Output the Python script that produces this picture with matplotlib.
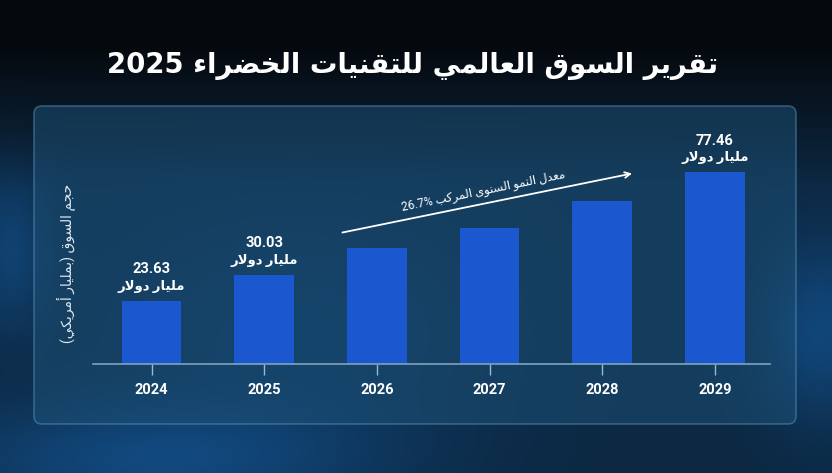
import unicodedata
import numpy as np
import matplotlib
matplotlib.use("Agg")
import matplotlib.pyplot as plt
from matplotlib.patches import FancyBboxPatch

# data
years = ["2024", "2025", "2026", "2027", "2028", "2029"]
bar_heights = [25.6, 36.1, 47.0, 55.1, 66.0, 77.46]   # bar heights as drawn (billion USD)
label_values = ["23.63", "30.03", None, None, None, "77.46"]
unit_text = "مليار دولار"
title_text = "تقرير السوق العالمي للتقنيات الخضراء 2025"
ylabel_text = "حجم السوق (بمليار أمريكي)"
cagr_text = "معدل النمو السنوى المركب 26.7%"

# --- tiny arabic shaper (matplotlib does no shaping) ---
RIGHT_ONLY = set("اأإآدذرزوؤةى")
LTR_CHARS = set("0123456789.%")


def is_ar(c):
    return "\u0621" <= c <= "\u064a"


def form(c, f):
    try:
        return unicodedata.lookup(unicodedata.name(c) + " " + f + " FORM")
    except KeyError:
        return c


def shape(s):
    out = []
    i = 0
    n = len(s)
    while i < n:
        c = s[i]
        if not is_ar(c):
            out.append(c)
            i += 1
            continue
        prev = s[i - 1] if i > 0 else ""
        joins_prev = prev != "" and is_ar(prev) and prev not in RIGHT_ONLY and prev != "ء"
        nxt = s[i + 1] if i + 1 < n else ""
        # lam-alef ligature
        if c == "ل" and nxt in "اأإآ" and nxt != "":
            name = unicodedata.name(nxt).replace("ARABIC LETTER ", "")
            lig = "ARABIC LIGATURE LAM WITH " + name
            lig += " FINAL FORM" if joins_prev else " ISOLATED FORM"
            out.append(unicodedata.lookup(lig))
            i += 2
            continue
        joins_next = c not in RIGHT_ONLY and c != "ء" and nxt != "" and is_ar(nxt)
        if joins_prev and joins_next:
            out.append(form(c, "MEDIAL"))
        elif joins_prev:
            out.append(form(c, "FINAL"))
        elif joins_next:
            out.append(form(c, "INITIAL"))
        else:
            out.append(form(c, "ISOLATED"))
        i += 1
    # visual order: reverse, keep number runs left-to-right, mirror brackets
    rev = "".join(out)[::-1]
    rev = rev.translate(str.maketrans("()", ")("))
    res, run = [], ""
    for ch in rev:
        if ch in LTR_CHARS:
            run += ch
        else:
            if run:
                res.append(run[::-1])
                run = ""
            res.append(ch)
    if run:
        res.append(run[::-1])
    return "".join(res)


plt.rcParams['font.family'] = ['Roboto', 'DejaVu Sans']

fig = plt.figure(figsize=(8.32, 4.73), dpi=100)

# background
bg = fig.add_axes([0, 0, 1, 1])
H, W = 473, 832
yy, xx = np.mgrid[0:H, 0:W]
t = np.clip((yy - 40) / 150.0, 0, 1)
top = np.array([5, 8, 12]) / 255.0
mid = np.array([12, 40, 66]) / 255.0
img = top[None, None, :] * (1 - t[..., None]) + mid[None, None, :] * t[..., None]
glow = np.exp(-(((xx - 150) / 220.0) ** 2 + ((yy - 460) / 60.0) ** 2)) * 0.5
glow += np.exp(-(((xx - 820) / 60.0) ** 2 + ((yy - 330) / 90.0) ** 2)) * 0.5
glow += np.exp(-(((xx - 10) / 40.0) ** 2 + ((yy - 250) / 80.0) ** 2)) * 0.4
glow += np.exp(-(((xx - 300) / 200.0) ** 2 + ((yy - 330) / 120.0) ** 2)) * 0.25
img = img + glow[..., None] * np.array([10, 60, 110])[None, None, :] / 255.0
bg.imshow(np.clip(img, 0, 1), aspect="auto", extent=[0, W, H, 0])
bg.set_xlim(0, W)
bg.set_ylim(H, 0)
bg.axis("off")

# panel
panel = FancyBboxPatch((34, 106), 762, 318, boxstyle="round,pad=0,rounding_size=8",
                       facecolor="#1d5278", edgecolor="#5a90b8", linewidth=1.2, alpha=0.5)
bg.add_patch(panel)

bg.text(413, 66, shape(title_text), fontsize=19.8, fontweight="bold", color="white",
        ha="center", va="center", family=['DejaVu Sans'])

# chart
ax = fig.add_axes([93 / W, (H - 364) / H, (770 - 93) / W, 224 / H])
ax.set_facecolor("none")
x = np.arange(len(years))
bars = ax.bar(x, bar_heights, width=0.53, color="#1b57cf", zorder=2)
ax.set_xlim(-0.52, 5.49)
ax.set_ylim(0, 90.5)
for s in ["top", "right", "left"]:
    ax.spines[s].set_visible(False)
ax.spines["bottom"].set_color("#7fa3bf")
ax.spines["bottom"].set_linewidth(1.2)
ax.set_yticks([])
ax.set_xticks(x)
ax.set_xticklabels(years, fontsize=10.5, fontweight="bold", color="white")
ax.tick_params(axis="x", length=8, width=1, color="#9cb8cc", pad=6)

for xi, h, lv in zip(x, bar_heights, label_values):
    if lv is None:
        continue
    ax.annotate(lv, (xi, h), xytext=(0, 22.5), textcoords="offset points",
                ha="center", va="center", fontsize=10.5, fontweight="bold", color="white")
    ax.annotate(shape(unit_text), (xi, h), xytext=(0, 10.5), textcoords="offset points",
                ha="center", va="center", fontsize=9.5, fontweight="bold", color="white")

# CAGR arrow
ax.annotate("", xy=(4.29, 77.2), xytext=(1.67, 52.9),
            arrowprops=dict(arrowstyle="->", color="white", lw=1.3))
ax.text(2.95, 70.0, shape(cagr_text), rotation=11.5, rotation_mode="anchor",
        ha="center", va="center", fontsize=8.5, color="white")

fig.text(66 / W, 1 - 263 / H, shape(ylabel_text), rotation=90, ha="center", va="center",
         fontsize=10, color="#dfe8ef")

fig.savefig("out.png", dpi=100)
